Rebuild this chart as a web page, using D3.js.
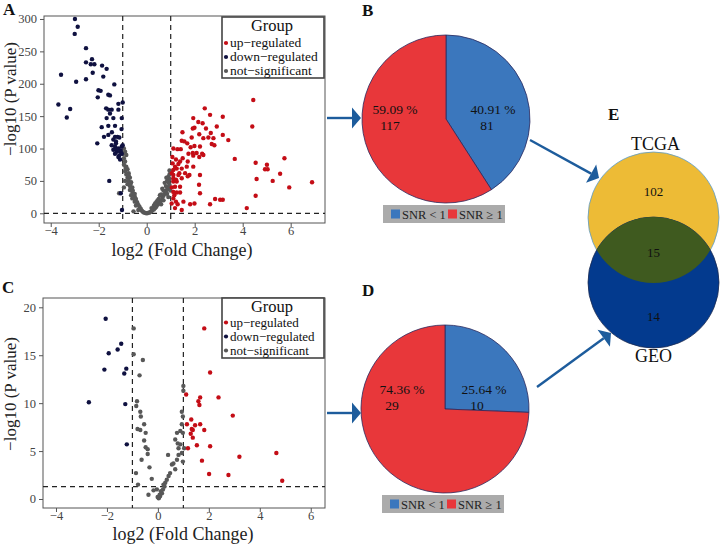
<!DOCTYPE html>
<html><head><meta charset="utf-8">
<script src="https://cdn.jsdelivr.net/npm/d3@7"></script>
<style>body{margin:0;background:#fff}svg{display:block}svg text{font-family:"Liberation Serif","Times New Roman",serif !important}</style>
</head><body><svg id="c" width="720" height="546"></svg>
<script>
// ---------------- DATA ----------------
const groupLabels = ["up\u2212regulated","down\u2212regulated","not\u2212significant"];
const xTicks = [-4,-2,0,2,4,6];
const yTicksA = [0,50,100,150,200,250,300];
const yTicksC = [0,5,10,15,20];
const pLineA = 0, pLineC = 1.3, fcCut = 1;

const volcanoA_down = [[-2.99,300],[-2.875,288],[-3.0,277],[-2.53,255],[-2.28,238],[-2.53,233],[-2.33,230],[-2.18,230],[-1.86,228],[-1.67,223],[-3.57,214],[-2.94,203],[-2.53,207],[-2.25,217],[-1.81,211],[-1.35,199],[-2.01,190],[-1.92,189],[-2.04,179],[-1.6,183],[-1.53,182],[-3.68,168],[-3.19,161],[-3.33,148],[-1.18,169],[-1.0,171],[-1.69,162],[-1.6,160],[-1.46,160],[-1.53,154],[-1.67,147],[-1.39,147],[-1.18,160],[-1.6,135],[-1.32,135],[-1.04,147],[-1.875,133],[-1.78,118],[-1.6,121],[-1.32,118],[-1.22,118],[-1.14,117],[-1.39,114],[-1.28,111],[-2.06,108],[-1.46,105],[-1.32,103],[-1.18,100],[-1.04,103],[-1.39,98],[-1.25,95],[-1.11,95],[-1.32,92],[-1.04,92],[-1.18,87],[-1.11,83],[-1.56,50],[-1.08,31],[-1.03,5],[-1.0,105],[-1.25,99],[-1.08,97],[-1.15,89],[-1.05,130],[-1.45,125],[-1.28,108]];
const volcanoA_up = [[4.44,175],[4.40,134],[2.42,162],[2.64,152],[1.94,147],[2.15,141],[3.17,149],[2.33,139],[1.92,131],[1.99,132],[2.47,131],[2.92,134],[1.49,125],[1.46,112],[1.57,111],[1.69,108],[1.875,117],[2.19,122],[2.36,116],[2.57,117],[2.67,124],[2.78,116],[3.17,121],[3.40,113],[2.71,107],[2.82,105],[1.11,100],[1.28,99],[1.42,99],[1.83,102],[1.99,104],[2.22,103],[1.74,92],[1.92,93],[2.08,93],[2.31,92],[1.07,87],[1.22,83],[1.39,80],[1.5,85],[1.71,80],[1.94,89],[2.19,87],[2.36,90],[3.67,84],[4.54,78],[5.74,85],[5.01,75],[4.93,68],[5.04,68],[5.56,61],[4.58,53],[5.25,50],[5.94,40],[6.89,48],[4.54,27],[4.17,8],[3.06,21],[3.17,21],[2.64,14],[2.85,22],[1.81,14],[1.99,15],[2.22,31],[2.18,44],[1.71,57],[1.78,59],[2.22,59],[1.11,67],[1.25,69],[1.46,69],[1.67,72],[1.94,72],[1.11,59],[1.32,59],[1.46,54],[1.11,49],[1.25,49],[1.39,41],[1.18,41],[1.11,33],[1.25,32],[1.39,32],[1.11,23],[1.22,18],[1.18,8],[1.46,5],[1.08,77],[1.18,72],[1.32,76],[1.11,54],[1.22,52],[1.36,62],[1.6,62],[1.04,15],[1.53,18],[1.29,14],[1.05,40],[1.15,28],[1.05,62]];
const volcanoA_ns = [[-0.95,100],[-0.9,95],[-0.85,90],[-0.95,85],[-0.9,80],[-0.95,75],[-0.85,72],[-0.8,68],[-0.9,65],[-0.85,60],[-0.75,62],[-0.8,55],[-0.7,55],[-0.9,50],[-0.75,50],[-0.65,48],[-0.8,45],[-0.7,42],[-0.6,40],[-0.7,36],[-0.6,33],[-0.55,30],[-0.65,28],[-0.5,26],[-0.6,23],[-0.45,22],[-0.5,18],[-0.4,17],[-0.35,13],[-0.45,12],[-0.3,10],[-0.25,7],[-0.35,5],[-0.2,4],[-0.15,2],[-0.1,1],[-0.05,0.5],[0,0],[0.05,0.5],[-0.95,40],[-1.15,31],[-0.55,3],[0.1,1],[0.15,2],[0.2,3],[0.25,5],[0.3,6],[0.35,8],[0.4,10],[0.3,12],[0.45,13],[0.5,15],[0.4,17],[0.55,18],[0.6,20],[0.5,22],[0.65,24],[0.7,27],[0.6,29],[0.75,30],[0.8,33],[0.7,35],[0.85,37],[0.9,40],[0.8,42],[0.95,44],[0.9,48],[0.85,50],[0.95,53],[0.9,56],[0.95,60],[1.0,63],[0.95,66],[0.75,47],[0.65,38],[0.55,28],[0.45,20],[0.2,8],[0.35,15],[-0.75,58],[-0.88,70],[-0.98,92],[-0.68,45],[-0.58,35],[-0.5,30],[0.85,30],[0.7,20],[0.6,14],[0.9,25],[0.98,35],[0.82,55]];

const volcanoC_down = [[-2.05,18.8],[-1.44,16.2],[-1.58,15.6],[-1.93,15.2],[-1.24,13.6],[-2.10,13.5],[-1.32,13.1],[-2.71,10.1],[-1.28,9.9],[-1.22,5.7]];
const volcanoC_up = [[1.82,17.8],[3.39,14.9],[2.05,13.2],[1.11,10.9],[1.66,10.6],[2.38,10.6],[1.59,10.2],[1.63,9.8],[2.94,8.7],[1.31,8.3],[1.14,7.8],[1.66,7.8],[1.46,7.7],[1.33,7.3],[1.37,7.2],[1.82,7.2],[1.29,6.8],[1.37,6.4],[1.18,5.3],[1.53,5.6],[2.05,5.5],[4.65,4.8],[3.20,4.4],[1.73,4.0],[2.01,2.6],[2.77,2.5],[4.88,1.9]];
const volcanoC_ns = [[-0.95,17.8],[-0.95,15.1],[-0.59,14.5],[-0.72,12.9],[-0.82,10.2],[-0.85,9.7],[-0.69,9.1],[-0.67,8.6],[-0.54,7.8],[-0.8,7.3],[-0.69,7.2],[-0.48,6.9],[-0.54,6.1],[-0.48,5.4],[-0.4,5.2],[-0.4,4.7],[-0.64,4.1],[-0.33,3.3],[-0.86,2.7],[-0.24,2.1],[-0.78,1.5],[-0.04,1.0],[-0.17,0.9],[-0.37,0.45],[0.07,0.45],[-0.01,0.2],[0.03,0.07],[0.09,0.3],[0.16,0.6],[0.2,1.0],[0.26,1.3],[0.29,1.7],[0.35,2.0],[0.42,2.4],[0.48,2.7],[0.4,4.6],[0.55,3.6],[0.61,3.7],[0.68,3.1],[0.75,4.1],[0.81,4.6],[0.94,4.8],[0.98,3.9],[0.88,5.7],[0.68,6.2],[0.75,6.9],[0.88,7.1],[0.98,6.9],[0.94,7.8],[0.98,8.6],[0.94,9.1],[1.0,11.8],[1.0,11.3],[1.03,5.3],[0.78,5.8],[0.81,5.3],[0.12,0.8],[0.22,1.5],[0.05,0.15]];

const pieLabels = ["SNR < 1","SNR \u2265 1"];
const pieB = [81,117];
const pieD = [10,29];
const vennSets = ["TCGA","GEO"];
const vennCounts = [102,15,14];

// ---------------- STYLE ----------------
const colUp="#c40d16", colDown="#0f1140", colNs="#585858";
const pieCols=["#3b77bd","#e8373a"];
const arrowCol="#1d5c9c";
const svg=d3.select("#c");

function volcano(o){
  const g=svg.append("g");
  const x=d3.scaleLinear().domain(o.xd).range([o.L,o.R]);
  const y=d3.scaleLinear().domain(o.yd).range([o.B,o.T]);
  g.append("rect").attr("x",o.L).attr("y",o.T).attr("width",o.R-o.L).attr("height",o.B-o.T).attr("fill","#fff").attr("stroke","#555").attr("stroke-width",1);
  const ax=g.append("g").attr("transform",`translate(0,${o.B})`).call(d3.axisBottom(x).tickValues(xTicks).tickSize(4).tickFormat(d=>d<0?"\u2212"+(-d):d));
  const ay=g.append("g").attr("transform",`translate(${o.L},0)`).call(d3.axisLeft(y).tickValues(o.yt).tickSize(4));
  [ax,ay].forEach(a=>{a.attr("font-family",null).attr("font-size",null);a.select(".domain").remove();a.selectAll("line").attr("stroke","#555");a.selectAll("text").attr("font-size",12.5).attr("fill","#444");});
  ax.selectAll("text").attr("y",3.5);
  const clip="clip"+o.id;
  g.append("clipPath").attr("id",clip).append("rect").attr("x",o.L).attr("y",o.T).attr("width",o.R-o.L).attr("height",o.B-o.T);
  const pg=g.append("g").attr("clip-path",`url(#${clip})`);
  const dash="5,4";
  [-fcCut,fcCut].forEach(v=>pg.append("line").attr("x1",x(v)).attr("x2",x(v)).attr("y1",o.T).attr("y2",o.B).attr("stroke","#222").attr("stroke-width",1.2).attr("stroke-dasharray",dash));
  pg.append("line").attr("x1",o.L).attr("x2",o.R).attr("y1",y(o.pline)).attr("y2",y(o.pline)).attr("stroke","#222").attr("stroke-width",1.2).attr("stroke-dasharray",dash);
  [[o.ns,colNs],[o.down,colDown],[o.up,colUp]].forEach(([d,c])=>{
    pg.selectAll(null).data(d).enter().append("circle").attr("cx",p=>x(p[0])).attr("cy",p=>y(p[1])).attr("r",2.2).attr("fill",c);
  });
  // legend
  const lg=g.append("g");
  lg.append("rect").attr("x",o.lx).attr("y",o.ly).attr("width",102).attr("height",o.lh).attr("fill","#fff").attr("stroke","#444").attr("stroke-width",1.6);
  lg.append("text").attr("x",o.lx+50).attr("y",o.ly+14).attr("text-anchor","middle").attr("font-size",16.5).attr("fill","#111").text("Group");
  [colUp,colDown,colNs].forEach((c,i)=>{
    const yy=o.ly+o.r0+i*o.rs;
    lg.append("circle").attr("cx",o.lx+4).attr("cy",yy).attr("r",2.1).attr("fill",c);
    lg.append("text").attr("x",o.lx+8).attr("y",yy+4.3).attr("font-size",o.lf).attr("fill","#111").text(groupLabels[i]);
  });
  g.append("text").attr("x",o.xtx).attr("y",o.xty).attr("text-anchor","middle").attr("font-size",18).attr("fill","#222").text("log2 (Fold Change)");
  g.append("text").attr("transform",`translate(${o.ytx},${o.yty}) rotate(-90)`).attr("text-anchor","middle").attr("font-size",17).attr("fill","#222").text("\u2212log10 (P value)");
}

volcano({id:"A",L:44,R:325,T:16,B:223,xd:[-4.28,7.43],yd:[-15.0,304.6],yt:yTicksA,pline:pLineA,
  up:volcanoA_up,down:volcanoA_down,ns:volcanoA_ns,lx:222,ly:17,lh:61,r0:26,rs:14,lf:13.5,xtx:182,xty:256,ytx:16,yty:99});
volcano({id:"C",L:43,R:325,T:298,B:508,xd:[-4.51,6.56],yd:[-0.94,20.97],yt:yTicksC,pline:pLineC,
  up:volcanoC_up,down:volcanoC_down,ns:volcanoC_ns,lx:222,ly:298,lh:60,r0:24.5,rs:14,lf:13,xtx:183,xty:540,ytx:16,yty:394});

// pies
function pie(o){
  const g=svg.append("g").attr("transform",`translate(${o.cx},${o.cy})`);
  const arcs=d3.pie().sort(null)(o.data);
  const arc=d3.arc().innerRadius(0).outerRadius(o.r);
  g.selectAll("path").data(arcs).enter().append("path").attr("d",arc).attr("fill",(d,i)=>pieCols[i]).attr("stroke","#2b2a5e").attr("stroke-width",0.8);
  const tot=d3.sum(o.data);
  arcs.forEach((a,i)=>{
    const pct=(100*o.data[i]/tot).toFixed(2)+" %";
    const p=o.lab[i];
    g.append("text").attr("x",p[0]).attr("y",p[1]).attr("text-anchor","middle").attr("font-size",13.5).attr("fill","#111").text(pct);
    g.append("text").attr("x",p[2]).attr("y",p[1]+16).attr("text-anchor","middle").attr("font-size",13.5).attr("fill","#111").text(o.data[i]);
  });
  const lg=svg.append("g").attr("transform",`translate(${o.lx},${o.ly})`);
  lg.append("rect").attr("x",0).attr("y",0).attr("width",122).attr("height",18).attr("fill","#ababab");
  [[8,pieLabels[0]],[65,pieLabels[1]]].forEach(([xx,t],i)=>{
    lg.append("rect").attr("x",xx).attr("y",4.5).attr("width",9).attr("height",9).attr("fill",pieCols[i]);
    lg.append("text").attr("x",xx+11).attr("y",13.5).attr("font-size",12.5).attr("fill","#222").text(t);
  });
}
pie({cx:446,cy:119,r:84,data:pieB,lab:[[47,-5,41],[-51,-5,-56]],lx:383,ly:205});
pie({cx:445,cy:409,r:84,data:pieD,lab:[[39,-15,32],[-43,-15,-53]],lx:382,ly:495});

// Venn
const vg=svg.append("g");
const vx=653.5, vr=65.5, vy1=217.5, vy2=282.5;
vg.append("clipPath").attr("id","vclip").append("circle").attr("cx",vx).attr("cy",vy1).attr("r",vr);
vg.append("circle").attr("cx",vx).attr("cy",vy1).attr("r",vr).attr("fill","#edbb36").attr("stroke","#5a9ccc").attr("stroke-width",0.8);
vg.append("circle").attr("cx",vx).attr("cy",vy2).attr("r",vr).attr("fill","#033a8e").attr("stroke","#1a2a50").attr("stroke-width",0.8);
vg.append("circle").attr("cx",vx).attr("cy",vy2).attr("r",vr).attr("fill","#3f5a1f").attr("clip-path","url(#vclip)");
vg.append("text").attr("x",vx+2).attr("y",150).attr("text-anchor","middle").attr("font-size",18).attr("fill","#111").text(vennSets[0]);
vg.append("text").attr("x",vx).attr("y",362).attr("text-anchor","middle").attr("font-size",18).attr("fill","#111").text(vennSets[1]);
[[196,vennCounts[0]],[257,vennCounts[1]],[321,vennCounts[2]]].forEach(([yy,t])=>vg.append("text").attr("x",vx).attr("y",yy).attr("text-anchor","middle").attr("font-size",13).attr("fill","#111").text(t));

// arrows
function arrow(x1,y1,x2,y2){
  const ang=Math.atan2(y2-y1,x2-x1), hl=9, hw=10.5;
  const bx=x2-hl*Math.cos(ang), by=y2-hl*Math.sin(ang);
  svg.append("line").attr("x1",x1).attr("y1",y1).attr("x2",bx).attr("y2",by).attr("stroke",arrowCol).attr("stroke-width",2.4);
  const px=-Math.sin(ang)*hw, py=Math.cos(ang)*hw;
  svg.append("path").attr("d",`M${x2},${y2}L${bx+px},${by+py}L${bx-px},${by-py}Z`).attr("fill",arrowCol);
}
arrow(327,118,361,118);
arrow(327,413,361,413);
arrow(530,140,599,178);
arrow(537,387,611,333);

// panel letters
[["A",3,15],["C",2,293],["B",362,16],["D",362,296],["E",608,120]].forEach(([t,x,y])=>svg.append("text").attr("x",x).attr("y",y).attr("font-size",17).attr("font-weight","bold").attr("fill","#111").text(t));
</script></body></html>
